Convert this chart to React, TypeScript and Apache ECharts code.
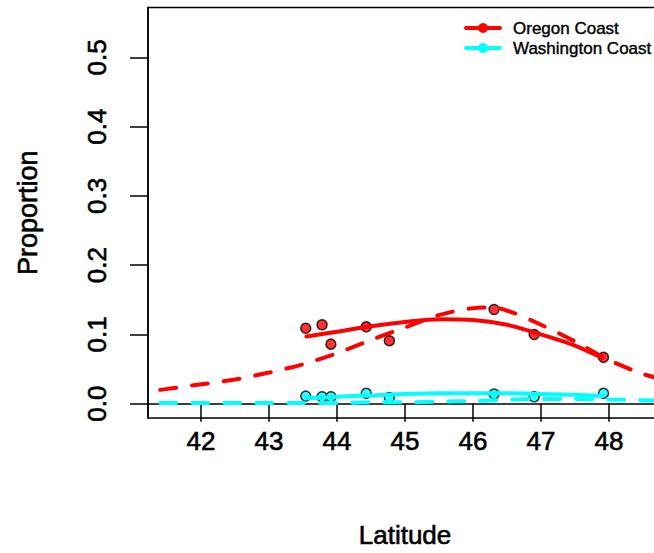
import React, { useEffect, useRef } from "react";
import * as echarts from "echarts";

// Observed sample sites
const latitudes = [43.54, 43.78, 43.91, 44.43, 44.77, 46.31, 46.9, 47.92];
const oregonObserved = [0.109, 0.114, 0.086, 0.111, 0.091, 0.136, 0.1, 0.067];
const washingtonObserved = [0.011, 0.01, 0.01, 0.015, 0.009, 0.014, 0.01, 0.015];

// Solid fitted curves (within sampled range)
const solidLat = [43.55, 44.0, 44.5, 45.0, 45.5, 46.0, 46.5, 47.0, 47.5, 47.9];
const oregonSolid = [0.097, 0.104, 0.112, 0.118, 0.122, 0.121, 0.114, 0.1, 0.084, 0.066];
const washingtonSolid = [0.008, 0.01, 0.012, 0.014, 0.015, 0.015, 0.015, 0.014, 0.013, 0.011];

// Dashed fitted curves (full range)
const dashLat = [41.4, 42.0, 42.5, 43.0, 43.5, 44.0, 44.5, 45.0, 45.5, 46.0, 46.3, 46.6, 47.0, 47.5, 48.0, 48.5, 48.8];
const oregonDashed = [0.02, 0.028, 0.035, 0.045, 0.057, 0.073, 0.092, 0.11, 0.128, 0.138, 0.139, 0.131, 0.114, 0.09, 0.063, 0.043, 0.035];
const washingtonDashed = [0.001, 0.001, 0.001, 0.001, 0.001, 0.001, 0.002, 0.002, 0.003, 0.004, 0.005, 0.006, 0.007, 0.007, 0.006, 0.005, 0.004];

const xTicks = [42, 43, 44, 45, 46, 47, 48];
const yTicks = [0, 0.1, 0.2, 0.3, 0.4, 0.5];
const seriesNames = ["Oregon Coast", "Washington Coast"];
const colors = ["#FF0000", "#00FFFF"];

const FONT = "'Liberation Sans', Arial, Helvetica, sans-serif";

const zip = (xs: number[], ys: number[]) => xs.map((x, i) => [x, ys[i]]);

export default function App() {
  const ref = useRef<HTMLDivElement>(null);
  useEffect(() => {
    if (!ref.current) return;
    const chart = echarts.init(ref.current, undefined, { renderer: "svg" });
    const lineBase = (name: string, color: string, data: number[][], dashed: boolean) => ({
      type: "line",
      name,
      data,
      showSymbol: false,
      symbol: "none",
      smooth: 0.3,
      lineStyle: {
        color,
        width: 4,
        cap: "round",
        type: dashed ? [16, 16] : "solid",
      },
      z: 3,
    });
    const scatterBase = (name: string, color: string, data: number[][]) => ({
      type: "scatter",
      name,
      data,
      symbol: "circle",
      symbolSize: 10,
      itemStyle: { color, borderColor: "#000", borderWidth: 1.5 },
      z: 2,
    });
    const heavy = { textBorderColor: "#000", textBorderWidth: 0.6 };
    const legendItems: any[] = [];
    seriesNames.forEach((n, i) => {
      const y = 28 + i * 20;
      legendItems.push(
        { type: "line", shape: { x1: 466, y1: y, x2: 500, y2: y }, style: { stroke: colors[i], lineWidth: 4, lineCap: "round" } },
        { type: "circle", shape: { cx: 483, cy: y, r: 5 }, style: { fill: colors[i] } },
        { type: "text", x: 513, y, style: { text: n, font: `17px ${FONT}`, fill: "#000", stroke: "#000", lineWidth: 0.4, textVerticalAlign: "middle", textAlign: "left" } }
      );
    });
    chart.setOption({
      animation: false,
      backgroundColor: "#fff",
      grid: {
        left: 148,
        top: 7.5,
        right: -8,
        bottom: 135,
        outerBoundsMode: "none",
        containLabel: false,
        show: true,
        borderColor: "#000",
        borderWidth: 1.5,
        backgroundColor: "transparent",
      },
      xAxis: {
        type: "value",
        min: 41.22,
        max: 48.78,
        name: "Latitude",
        nameLocation: "middle",
        nameGap: 104,
        nameTextStyle: { fontFamily: FONT, fontSize: 26, color: "#000", ...heavy },
        axisLine: { show: true, lineStyle: { color: "#000", width: 1.5 } },
        axisTick: { show: true, length: 18, customValues: xTicks, lineStyle: { color: "#000", width: 1.5 } },
        axisLabel: { customValues: xTicks, fontFamily: FONT, fontSize: 26, color: "#000", margin: 10, ...heavy },
        splitLine: { show: false },
      },
      yAxis: {
        type: "value",
        min: -0.0206,
        max: 0.572,
        name: "Proportion",
        nameLocation: "middle",
        nameGap: 107,
        nameTextStyle: { fontFamily: FONT, fontSize: 27, color: "#000", ...heavy },
        axisLine: { show: true, lineStyle: { color: "#000", width: 1.5 } },
        axisTick: { show: true, length: 18, customValues: yTicks, lineStyle: { color: "#000", width: 1.5 } },
        axisLabel: {
          customValues: yTicks,
          rotate: 90,
          formatter: (v: number) => v.toFixed(1),
          fontFamily: FONT,
          fontSize: 26,
          color: "#000",
          margin: 38,
          ...heavy,
        },
        splitLine: { show: false },
      },
      series: [
        scatterBase(seriesNames[0], colors[0], zip(latitudes, oregonObserved)),
        scatterBase(seriesNames[1], colors[1], zip(latitudes, washingtonObserved)),
        lineBase(seriesNames[0] + " fit", colors[0], zip(solidLat, oregonSolid), false),
        lineBase(seriesNames[0] + " fit (dashed)", colors[0], zip(dashLat, oregonDashed), true),
        lineBase(seriesNames[1] + " fit", colors[1], zip(solidLat, washingtonSolid), false),
        lineBase(seriesNames[1] + " fit (dashed)", colors[1], zip(dashLat, washingtonDashed), true),
      ],
      graphic: legendItems,
    });
    return () => chart.dispose();
  }, []);
  return <div ref={ref} style={{ position: "fixed", left: 0, top: 0, width: 654, height: 553 }} />;
}
